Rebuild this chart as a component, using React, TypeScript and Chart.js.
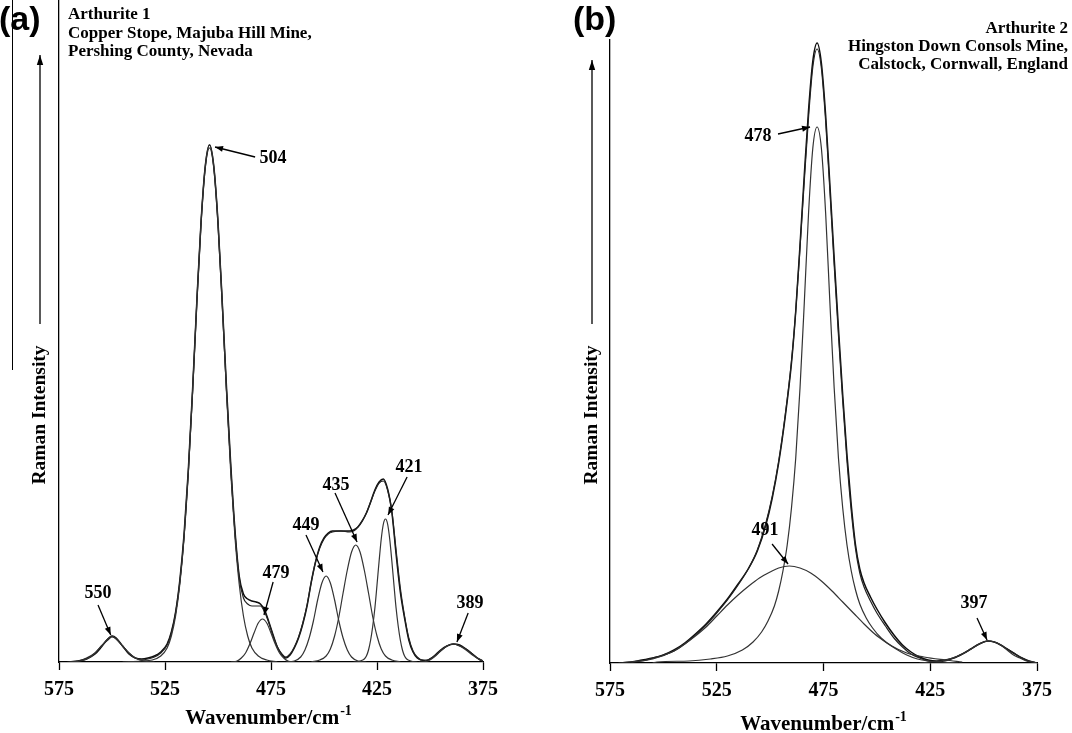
import React, { useEffect, useRef } from "react";
import { Chart, registerables } from "chart.js";

Chart.register(...registerables);

type Pt = [number, number];

// ---------- shared axis texts ----------
const xTicks = [575, 525, 475, 425, 375];
const xAxisLabel = "Wavenumber/cm";
const xAxisSup = "-1";
const yAxisLabel = "Raman Intensity";

// ---------- panel (a) data : [wavenumber, intensity] ----------
const titleA = ["Arthurite 1", "Copper Stope, Majuba Hill Mine,", "Pershing County, Nevada"];

const measuredA: Pt[] = [
  [571, 0], [566, 1], [562, 3], [558, 8], [555, 15], [552, 23], [550, 26], [548, 24], [545, 16], [542, 8],
  [539, 4], [536, 3], [533, 4], [530, 6], [527, 10], [524, 18], [522, 30], [520, 50], [518, 82], [516, 128],
  [514, 192], [512, 272], [510, 360], [508, 440], [506, 496], [504, 517], [502, 496], [500, 440], [498, 360],
  [496, 275], [494, 198], [492, 132], [490, 86], [488, 68], [486, 63], [484, 61], [482, 60], [480, 58],
  [478, 52], [476, 40], [474, 27], [472, 15], [470, 8], [468, 4], [466, 7], [464, 14], [462, 24], [460, 38],
  [458, 56], [456, 80], [454, 100], [452, 115], [450, 124], [448, 129], [446, 131], [442, 131], [438, 131],
  [436, 132], [434, 135], [432, 141], [430, 149], [428, 160], [426, 172], [424, 180], [422, 183], [420, 173],
  [418, 150], [416, 108], [414, 70], [412, 44], [410, 22], [408, 10], [406, 4], [404, 2], [402, 1], [400, 3],
  [398, 6], [395, 12], [392, 16], [389, 18], [386, 17], [383, 13], [380, 8], [377, 3], [375, 1],
];

const fitA: Pt[] = [
  [571, 0], [566, 1], [562, 4], [558, 9], [555, 16], [552, 22], [550, 25], [548, 23], [545, 16], [542, 9],
  [539, 4], [536, 2], [533, 3], [530, 5], [527, 9], [524, 17], [522, 29], [520, 49], [518, 80], [516, 125],
  [514, 189], [512, 270], [510, 358], [508, 438], [506, 494], [504, 514], [502, 494], [500, 437], [498, 357],
  [496, 272], [494, 195], [492, 130], [490, 84], [488, 64], [486, 58], [484, 56], [482, 56], [480, 56],
  [478, 50], [476, 39], [474, 26], [472, 15], [470, 8], [468, 5], [466, 8], [464, 15], [462, 25], [460, 39],
  [458, 57], [456, 80], [454, 100], [452, 114], [450, 123], [448, 128], [446, 130], [442, 131], [438, 130],
  [436, 131], [434, 135], [432, 141], [430, 149], [428, 160], [426, 171], [424, 179], [422, 181], [420, 172],
  [418, 151], [416, 112], [414, 74], [412, 46], [410, 24], [408, 11], [406, 5], [404, 2], [402, 2], [400, 3],
  [398, 6], [395, 11], [392, 16], [389, 18], [386, 16], [383, 13], [380, 8], [377, 3], [375, 1],
];

const band550A: Pt[] = [
  [570, 0], [565, 1], [561, 4], [558, 9], [555, 16], [552, 23], [550, 26], [548, 23], [545, 16], [542, 9],
  [539, 4], [535, 1], [530, 0],
];
const band504A: Pt[] = [
  [545, 0], [536, 1], [531, 2], [527, 6], [524, 14], [522, 26], [520, 46], [518, 78], [516, 125], [514, 190],
  [512, 270], [510, 360], [508, 440], [506, 496], [504, 517], [502, 496], [500, 440], [498, 360], [496, 270],
  [494, 190], [492, 125], [490, 78], [488, 46], [486, 26], [484, 14], [481, 6], [477, 2], [472, 0],
];
const band479A: Pt[] = [
  [494, 0], [491, 1], [489, 4], [487, 9], [485, 18], [483, 29], [481, 39], [479, 43], [477, 39], [475, 29],
  [473, 18], [471, 9], [469, 4], [467, 1], [464, 0],
];
const band449A: Pt[] = [
  [468, 0], [464, 1], [461, 5], [459, 12], [457, 24], [455, 41], [453, 62], [451, 79], [449, 86], [447, 79],
  [445, 62], [443, 41], [441, 24], [439, 12], [437, 5], [434, 1], [430, 0],
];
const band435A: Pt[] = [
  [456, 0], [452, 2], [449, 6], [447, 13], [445, 26], [443, 45], [441, 69], [439, 92], [437, 110], [435, 117],
  [433, 110], [431, 92], [429, 69], [427, 45], [425, 26], [423, 13], [421, 6], [418, 2], [414, 0],
];
const band421A: Pt[] = [
  [436, 0], [433, 1], [431, 3], [430, 6], [429, 12], [428, 22], [427, 36], [426, 54], [425, 77], [424, 101],
  [423, 123], [422, 138], [421, 143], [420, 138], [419, 123], [418, 101], [417, 77], [416, 54], [415, 36],
  [414, 22], [413, 12], [412, 6], [411, 3], [409, 1], [406, 0],
];
const band389A: Pt[] = [
  [405, 0], [401, 1], [398, 5], [395, 11], [392, 16], [389, 18], [386, 16], [383, 12], [380, 7], [377, 3], [375, 1],
];

// ---------- panel (b) data ----------
const titleB = ["Arthurite 2", "Hingston Down Consols Mine,", "Calstock, Cornwall, England"];

const measuredB: Pt[] = [
  [571, 0], [565, 1], [560, 3], [555, 5], [550, 8], [545, 13], [540, 20], [535, 29], [530, 39], [525, 51],
  [520, 64], [515, 79], [510, 95], [506, 112], [502, 138], [499, 165], [496, 200], [493, 245], [490, 300],
  [488, 352], [486, 418], [484, 488], [482, 553], [480, 602], [478, 620], [476, 600], [474, 548], [472, 478],
  [470, 405], [468, 335], [466, 268], [464, 208], [462, 158], [460, 118], [458, 94], [456, 80], [453, 66],
  [450, 54], [446, 40], [442, 28], [438, 18], [434, 11], [430, 6], [426, 3], [422, 2], [418, 3], [414, 5],
  [410, 9], [406, 14], [403, 18], [400, 21], [398, 22], [395, 21], [392, 18], [389, 14], [386, 10], [383, 6],
  [380, 3], [377, 1], [375, 0],
];
const fitB: Pt[] = [
  [571, 0], [565, 1], [560, 2], [555, 5], [550, 8], [545, 12], [540, 19], [535, 28], [530, 38], [525, 50],
  [520, 63], [515, 78], [510, 95], [506, 113], [502, 140], [499, 167], [496, 202], [493, 247], [490, 302],
  [488, 352], [486, 415], [484, 482], [482, 546], [480, 596], [478, 614], [476, 595], [474, 542], [472, 472],
  [470, 398], [468, 328], [466, 262], [464, 202], [462, 152], [460, 114], [458, 90], [456, 76], [453, 62],
  [450, 50], [446, 37], [442, 25], [438, 16], [434, 9], [430, 5], [426, 2], [422, 1], [418, 2], [414, 5],
  [410, 9], [406, 14], [403, 18], [400, 21], [398, 22], [395, 21], [392, 18], [389, 14], [386, 10], [383, 6],
  [380, 3], [377, 1], [375, 0],
];
const band478B: Pt[] = [
  [555, 0], [553, 1], [538, 2], [528, 4], [520, 7], [513, 13], [508, 21], [504, 31], [501, 42], [498, 57],
  [496, 72], [494, 92], [492, 118], [490, 155], [488, 205], [486, 275], [484, 360], [482, 450], [480, 515],
  [478, 536], [476, 515], [474, 450], [472, 360], [470, 275], [468, 205], [466, 155], [464, 118], [462, 92],
  [460, 73], [458, 59], [455, 45], [452, 35], [448, 25], [443, 17], [436, 10], [428, 6], [418, 3], [410, 1],
];
const band491B: Pt[] = [
  [565, 1], [555, 4], [545, 12], [540, 19], [535, 27], [530, 36], [525, 47], [520, 58], [515, 68], [510, 77],
  [505, 85], [500, 91], [496, 95], [491, 97], [486, 95], [481, 90], [476, 82], [471, 72], [466, 61], [461, 50],
  [456, 39], [451, 29], [446, 21], [441, 14], [436, 8], [431, 4], [426, 2], [420, 1], [412, 0],
];
const band397B: Pt[] = [
  [430, 0], [425, 1], [420, 2], [416, 4], [412, 7], [408, 11], [405, 15], [402, 19], [398, 22], [395, 21],
  [392, 18], [389, 13], [386, 8], [383, 5], [380, 2], [377, 1], [375, 0],
];

// ---------- peak labels (text, label centre, arrow start, arrow tip) in data coords ----------
type Ann = { text: string; at: Pt; from: Pt; to: Pt };
const peaksA: Ann[] = [
  { text: "550", at: [556.6, 69], from: [556.6, 57], to: [550.6, 27] },
  { text: "504", at: [474.0, 504], from: [482.5, 505], to: [501.4, 515] },
  { text: "479", at: [472.6, 89], from: [474.0, 80], to: [478.3, 47] },
  { text: "449", at: [458.5, 137], from: [458.5, 127], to: [450.5, 90] },
  { text: "435", at: [444.3, 177], from: [444.8, 169], to: [434.4, 120] },
  { text: "421", at: [409.9, 195], from: [410.8, 185], to: [419.8, 147] },
  { text: "389", at: [381.1, 59], from: [382.0, 49], to: [387.3, 20] },
];
const peaksB: Ann[] = [
  { text: "478", at: [505.7, 527], from: [496.3, 529], to: [481.3, 536] },
  { text: "491", at: [502.4, 133], from: [499.1, 119], to: [491.6, 99] },
  { text: "397", at: [404.5, 60], from: [403.1, 45], to: [398.4, 23] },
];

// ---------- layout ----------
type PanelSpec = {
  letter: string;
  title: string[];
  titleAlign: "left" | "right";
  titleX: number;
  titleY: number[];
  letterX: number;
  padding: { left: number; right: number; top: number };
  axisHeight: number;
  yMax: number;
  yTitleX: number;
  arrowTop: number;
  arrowBottom: number;
  yTitleCenter: number;
  xTitleX: number;
  xTitleBase: number;
  extraLine?: [number, number, number];
  measured: Pt[];
  fit: Pt[];
  bands: Pt[][];
  peaks: Ann[];
};

const SERIF = '"Liberation Serif", "Times New Roman", serif';

const panelA: PanelSpec = {
  letter: "(a)",
  title: titleA,
  titleAlign: "left",
  titleX: 68,
  titleY: [15, 34, 52],
  letterX: -1,
  padding: { left: 59, right: 53, top: 0 },
  axisHeight: 71,
  yMax: 662,
  yTitleX: 40,
  arrowTop: 55,
  arrowBottom: 324,
  yTitleCenter: 415,
  xTitleX: 268,
  xTitleBase: 724,
  extraLine: [12, 0, 370],
  measured: measuredA,
  fit: fitA,
  bands: [band550A, band504A, band479A, band449A, band435A, band421A, band389A],
  peaks: peaksA,
};

const panelB: PanelSpec = {
  letter: "(b)",
  title: titleB,
  titleAlign: "right",
  titleX: 532,
  titleY: [29, 47, 65],
  letterX: 37,
  padding: { left: 74, right: 35, top: 40 },
  axisHeight: 70,
  yMax: 623,
  yTitleX: 56,
  arrowTop: 60,
  arrowBottom: 324,
  yTitleCenter: 415,
  xTitleX: 287,
  xTitleBase: 730,
  measured: measuredB,
  fit: fitB,
  bands: [band478B, band491B, band397B],
  peaks: peaksB,
};

function drawArrow(ctx: CanvasRenderingContext2D, x1: number, y1: number, x2: number, y2: number, head = 8, half = 3.2) {
  ctx.beginPath();
  ctx.moveTo(x1, y1);
  ctx.lineTo(x2, y2);
  ctx.stroke();
  const a = Math.atan2(y2 - y1, x2 - x1);
  const bx = x2 - head * Math.cos(a);
  const by = y2 - head * Math.sin(a);
  ctx.beginPath();
  ctx.moveTo(x2, y2);
  ctx.lineTo(bx + half * Math.sin(a), by - half * Math.cos(a));
  ctx.lineTo(bx - half * Math.sin(a), by + half * Math.cos(a));
  ctx.closePath();
  ctx.fill();
}

function makeDecor(spec: PanelSpec) {
  return {
    id: "decor",
    afterDraw(chart: any) {
      const ctx: CanvasRenderingContext2D = chart.ctx;
      const xs = chart.scales.x;
      const ys = chart.scales.y;
      ctx.save();
      ctx.fillStyle = "#000";
      ctx.strokeStyle = "#000";
      ctx.lineWidth = 1.3;

      // panel letter
      ctx.font = 'bold 34px "Liberation Sans", Arial, sans-serif';
      ctx.textAlign = "left";
      ctx.textBaseline = "middle";
      ctx.fillText(spec.letter, spec.letterX, 21);

      // header text
      ctx.font = `bold 17px ${SERIF}`;
      ctx.textAlign = spec.titleAlign;
      spec.title.forEach((t, i) => ctx.fillText(t, spec.titleX, spec.titleY[i]));

      // y axis title with arrow
      ctx.save();
      ctx.translate(spec.yTitleX, spec.yTitleCenter);
      ctx.rotate(-Math.PI / 2);
      ctx.font = `bold 19.5px ${SERIF}`;
      ctx.textAlign = "center";
      ctx.textBaseline = "middle";
      ctx.fillText(yAxisLabel, 0, 0);
      ctx.restore();
      drawArrow(ctx, spec.yTitleX, spec.arrowBottom, spec.yTitleX, spec.arrowTop, 10, 3.2);

      if (spec.extraLine) {
        const [lx, ly1, ly2] = spec.extraLine;
        ctx.lineWidth = 1;
        ctx.beginPath();
        ctx.moveTo(lx + 0.5, ly1);
        ctx.lineTo(lx + 0.5, ly2);
        ctx.stroke();
      }

      // x axis title with superscript
      ctx.textAlign = "left";
      ctx.textBaseline = "alphabetic";
      ctx.font = `bold 21px ${SERIF}`;
      const wMain = ctx.measureText(xAxisLabel).width;
      ctx.font = `bold 14px ${SERIF}`;
      const wSup = ctx.measureText(xAxisSup).width;
      const start = spec.xTitleX - (wMain + wSup) / 2;
      ctx.font = `bold 21px ${SERIF}`;
      ctx.fillText(xAxisLabel, start, spec.xTitleBase);
      ctx.font = `bold 14px ${SERIF}`;
      ctx.fillText(xAxisSup, start + wMain + 1, spec.xTitleBase - 9);

      // peak labels and arrows
      ctx.lineWidth = 1.3;
      ctx.font = `bold 18px ${SERIF}`;
      ctx.textAlign = "center";
      ctx.textBaseline = "middle";
      spec.peaks.forEach((p) => {
        ctx.fillText(p.text, xs.getPixelForValue(p.at[0]), ys.getPixelForValue(p.at[1]));
        drawArrow(
          ctx,
          xs.getPixelForValue(p.from[0]), ys.getPixelForValue(p.from[1]),
          xs.getPixelForValue(p.to[0]), ys.getPixelForValue(p.to[1]),
          8, 3
        );
      });
      ctx.restore();
    },
  };
}

function buildConfig(spec: PanelSpec): any {
  const toXY = (pts: Pt[]) => pts.map(([x, y]) => ({ x, y }));
  const line = (pts: Pt[], color: string, width: number) => ({
    data: toXY(pts),
    showLine: true,
    borderColor: color,
    borderWidth: width,
    pointRadius: 0,
    fill: false,
    cubicInterpolationMode: "monotone",
  });
  return {
    type: "scatter",
    data: {
      datasets: [
        ...spec.bands.map((b) => line(b, "#333", 1.2)),
        line(spec.fit, "#222", 1.2),
        line(spec.measured, "#0d0d0d", 1.5),
      ],
    },
    options: {
      responsive: false,
      devicePixelRatio: 1,
      animation: false,
      events: [],
      layout: { padding: { left: spec.padding.left, right: spec.padding.right, top: spec.padding.top, bottom: 0 } },
      plugins: { legend: { display: false }, tooltip: { enabled: false } },
      scales: {
        x: {
          type: "linear",
          min: 375,
          max: 575,
          reverse: true,
          afterBuildTicks: (s: any) => {
            s.ticks = xTicks.map((v) => ({ value: v }));
          },
          afterFit: (s: any) => {
            s.height = spec.axisHeight;
          },
          ticks: {
            color: "#000",
            font: { family: SERIF, weight: "bold", size: 20 },
            padding: 8,
            maxRotation: 0,
            autoSkip: false,
          },
          grid: { display: true, drawOnChartArea: false, drawTicks: true, tickLength: 8, tickColor: "#000", tickWidth: 1.3 },
          border: { display: true, color: "#000", width: 1.3 },
        },
        y: {
          type: "linear",
          min: 0,
          max: spec.yMax,
          afterFit: (s: any) => {
            s.width = 0;
          },
          ticks: { display: false },
          grid: { display: false, drawTicks: false },
          border: { display: true, color: "#000", width: 1.3 },
        },
      },
    },
    plugins: [makeDecor(spec)],
  };
}

function Panel({ spec, left }: { spec: PanelSpec; left: number }) {
  const ref = useRef<HTMLCanvasElement>(null);
  useEffect(() => {
    const chart = new Chart(ref.current as HTMLCanvasElement, buildConfig(spec));
    return () => chart.destroy();
  }, [spec]);
  return (
    <canvas
      ref={ref}
      width={536}
      height={733}
      style={{ position: "absolute", left, top: 0, width: 536, height: 733 }}
    />
  );
}

export default function App() {
  return (
    <div style={{ position: "fixed", left: 0, top: 0, width: 1072, height: 733, background: "#fff", overflow: "hidden" }}>
      <Panel spec={panelA} left={0} />
      <Panel spec={panelB} left={536} />
    </div>
  );
}
